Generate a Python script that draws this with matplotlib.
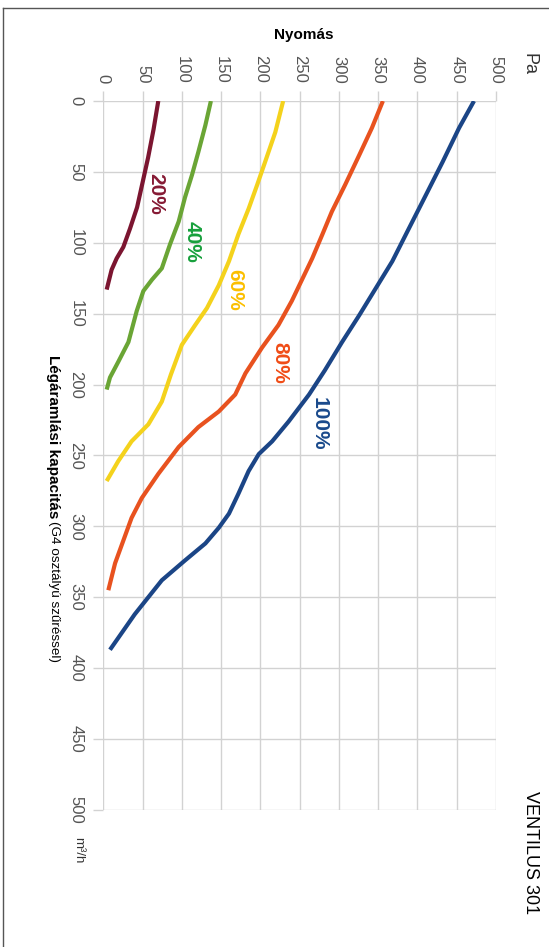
import matplotlib.pyplot as plt
from matplotlib.lines import Line2D

plt.rcParams['font.family'] = ['Liberation Sans', 'DejaVu Sans']

W, H = 549, 947

# airflow (m3/h) and pressure (Pa) per fan speed
flow_20 = [0, 20, 40, 60, 75, 90, 103, 111, 119, 133]
pa_20 = [70, 64, 57, 49, 43, 34, 25.5, 17, 10.6, 4.3]

flow_40 = [0, 17, 36, 52, 68, 85, 101, 118, 126, 134, 148, 170, 184, 195, 203.5]
pa_40 = [137, 130, 121, 113, 104, 96, 85, 74.5, 62, 51, 42.6, 32, 19, 8.5, 4.3]

flow_60 = [0, 22, 43, 59, 76, 94, 113, 130, 146, 158, 172, 193, 212, 228, 240, 254, 268]
pa_60 = [229, 219, 206, 196, 185, 172, 160, 147, 132, 117, 100, 86, 74.5, 57.4, 36, 19, 4.3]

flow_80 = [0, 19, 38, 59, 78, 94, 111, 126, 141, 158, 174, 192, 207, 219, 230,
           244, 263, 280, 294, 310, 326, 345]
pa_80 = [356, 342, 326, 308, 291, 279, 266, 253, 240, 223, 202, 181, 168, 147, 121,
         96, 70, 49, 36, 25.5, 15, 6.4]

flow_100 = [0, 19, 43, 66, 90, 113, 132, 151, 170, 190, 207, 226, 240, 249, 261,
            277, 291, 301, 312, 324, 338, 362, 387]
pa_100 = [472, 453, 432, 411, 389, 368, 347, 326, 304, 282, 262, 236, 215, 198, 185,
          172, 160, 147, 130, 104, 74.5, 40, 8.5]

series = [
    ('20%', flow_20, pa_20, '#7b1530', '#861a34', (66.7, 65.6)),
    ('40%', flow_40, pa_40, '#6aa535', '#17a03c', (112.6, 99.2)),
    ('60%', flow_60, pa_60, '#f4d21c', '#fbbf00', (167.7, 133.3)),
    ('80%', flow_80, pa_80, '#e8521f', '#f04c16', (225, 184.8)),
    ('100%', flow_100, pa_100, '#1b4586', '#1a4a8c', (274.6, 227.8)),
]

ticks = list(range(0, 501, 50))

fig = plt.figure(figsize=(W / 100, H / 100), dpi=100)
ax = fig.add_axes([103.3 / W, 1 - 810 / H, 392.7 / W, 709 / H])

for name, fl, pa, lc, tc, pos in series:
    ax.plot(pa, fl, color=lc, lw=3.0, solid_capstyle='butt', solid_joinstyle='round', zorder=3)
    ax.text(pos[0], pos[1], name, color=tc, rotation=-90, ha='center', va='center',
            fontsize=15, fontweight='bold', zorder=4)

ax.set_xlim(0, 500)
ax.set_ylim(500, 0)
ax.set_xticks(ticks)
ax.set_yticks(ticks)
ax.xaxis.tick_top()
ax.grid(True, color='#d2d2d2', lw=1.0)
ax.set_axisbelow(True)
for s in ax.spines.values():
    s.set_visible(False)
ax.tick_params(axis='both', length=7.2, width=1.0, color='#d2d2d2',
               labelsize=12, labelcolor='#555555')
ax.tick_params(axis='x', pad=5.5)
ax.tick_params(axis='y', pad=7)
for lab in ax.get_xticklabels():
    lab.set_rotation(-90)
for lab in ax.get_yticklabels():
    lab.set_rotation(-90)
    lab.set_va('center')

fig.text(304 / W, 1 - 35 / H, 'Nyomás', ha='center', va='center',
         fontsize=11, fontweight='bold', color='black')
fig.text(529 / W, 1 - 64 / H, 'Pa', ha='center', va='center', rotation=-90,
         fontsize=13, color='#333333')
fig.text(53 / W, 1 - 355 / H, 'Légáramlási kapacitás', ha='center', va='top',
         rotation=-90, fontsize=11, fontweight='bold', color='black')
fig.text(54 / W, 1 - 521 / H, '(G4 osztályú szűréssel)', ha='center', va='top',
         rotation=-90, fontsize=9.7, color='black')
fig.text(78 / W, 1 - 850 / H, 'm³/h', ha='center', va='center', rotation=-90,
         fontsize=9.5, color='#333333')
fig.text(530 / W, 1 - 853 / H, 'VENTILUS 301', ha='center', va='center', rotation=-90,
         fontsize=13, color='black', family=['Liberation Sans Narrow', 'Liberation Sans'])

# frame lines at left and top
fig.add_artist(Line2D([3 / W, 3 / W], [0, 1 - 8 / H], color='#555555', lw=1.0))
fig.add_artist(Line2D([3 / W, 1], [1 - 8 / H, 1 - 8 / H], color='#555555', lw=1.0))

fig.savefig('out.png', dpi=100)
